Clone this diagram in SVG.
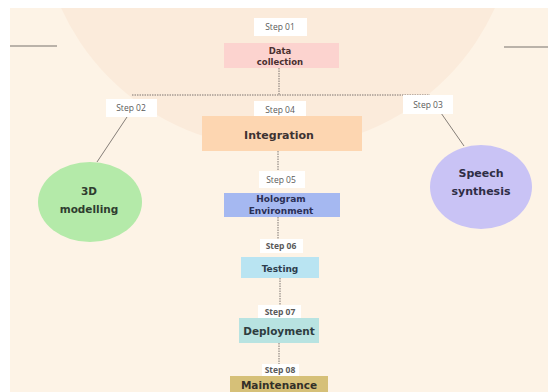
<svg xmlns="http://www.w3.org/2000/svg" width="548" height="392" viewBox="0 0 548 392">
<style>
.step{fill:#ffffff}
.steptxt{font-family:"Open Sans","DejaVu Sans",sans-serif;font-size:8.5px;fill:#5a5a5a;text-anchor:middle}
.lbl{font-family:"DejaVu Sans",sans-serif;font-weight:bold;text-anchor:middle}
.dot{stroke:#7d7570;stroke-width:1;stroke-dasharray:1.5 1;fill:none}
.solid{stroke:#857e78;stroke-width:1;fill:none}
.rule{stroke:#a39c94;stroke-width:1.5;fill:none}
</style>
<rect x="0" y="0" width="548" height="392" fill="#ffffff"/>
<rect x="10" y="8" width="538" height="384" fill="#fdf3e6"/>
<clipPath id="bgclip"><rect x="10" y="8" width="538" height="384"/></clipPath>
<circle cx="278" cy="-90" r="238" fill="#fbebdb" clip-path="url(#bgclip)"/>
<line class="rule" x1="10" y1="46" x2="57" y2="46"/>
<line class="rule" x1="504" y1="47" x2="548" y2="47"/>

<g id="connectors">
<line class="dot" x1="279" y1="68" x2="279" y2="95"/>
<line class="dot" x1="132" y1="95" x2="430" y2="95"/>
<line class="solid" x1="127" y1="117" x2="97" y2="162"/>
<line class="solid" x1="441" y1="113" x2="464" y2="146"/>
<line class="dot" x1="278" y1="151" x2="278" y2="171"/>
<line class="dot" x1="278" y1="217" x2="278" y2="240"/>
<line class="dot" x1="280" y1="278" x2="280" y2="306"/>
<line class="dot" x1="279" y1="343" x2="279" y2="365"/>
</g>

<g id="step01"><rect class="step" x="254" y="18" width="53" height="18"/><text class="steptxt" x="280" y="30">Step 01</text></g>
<g id="data-collection"><rect x="224" y="43" width="115" height="25" fill="#fcd3cf"/>
<text class="lbl" x="280" y="53.5" font-size="8.5" fill="#4a2f30">Data</text>
<text class="lbl" x="280" y="64.5" font-size="8.5" fill="#4a2f30">collection</text></g>

<g id="step02"><rect class="step" x="106" y="99" width="51" height="18"/><text class="steptxt" x="131" y="111">Step 02</text></g>
<g id="step04"><rect class="step" x="254" y="101" width="52" height="17"/><text class="steptxt" x="280" y="112.5">Step 04</text></g>
<g id="step03"><rect class="step" x="403" y="95" width="50" height="19"/><text class="steptxt" x="428" y="107.5">Step 03</text></g>

<g id="integration"><rect x="202" y="116" width="160" height="35" fill="#fdd6b1"/>
<text class="lbl" x="279" y="138.5" font-size="11" fill="#3d3232">Integration</text></g>

<g id="modelling"><ellipse cx="90" cy="202" rx="52" ry="40" fill="#b4eaa9"/>
<text class="lbl" x="89" y="195" font-size="10.5" fill="#2f3d30">3D</text>
<text class="lbl" x="89" y="213" font-size="10.5" fill="#2f3d30">modelling</text></g>

<g id="speech"><ellipse cx="481" cy="187" rx="51" ry="42" fill="#c9c3f5"/>
<text class="lbl" x="481" y="177" font-size="11" fill="#2e2d45">Speech</text>
<text class="lbl" x="481" y="195" font-size="11" fill="#2e2d45">synthesis</text></g>

<g id="step05"><rect class="step" x="259" y="171" width="46" height="17"/><text class="steptxt" x="281" y="182.5">Step 05</text></g>
<g id="hologram"><rect x="224" y="193" width="116" height="24" fill="#a5b8f1"/>
<text class="lbl" x="281" y="202" font-size="9" fill="#2a2f55">Hologram</text>
<text class="lbl" x="281" y="214" font-size="9" fill="#2a2f55">Environment</text></g>

<g id="step06"><rect class="step" x="260" y="239" width="43" height="14"/><text class="steptxt" x="281" y="249" font-weight="bold" font-size="8">Step 06</text></g>
<g id="testing"><rect x="241" y="257" width="78" height="21" fill="#b9e4f2"/>
<text class="lbl" x="280" y="271.5" font-size="9" fill="#2d3d4d">Testing</text></g>

<g id="step07"><rect class="step" x="258" y="305" width="43" height="14"/><text class="steptxt" x="280" y="315" font-weight="bold" font-size="8">Step 07</text></g>
<g id="deployment"><rect x="239" y="318" width="80" height="25" fill="#b8e3e1"/>
<text class="lbl" x="279" y="335" font-size="10.5" fill="#2e3d3f">Deployment</text></g>

<g id="step08"><rect class="step" x="262" y="364" width="37" height="12"/><text class="steptxt" x="280" y="373" font-weight="bold" font-size="8">Step 08</text></g>
<g id="maintenance"><rect x="230" y="376" width="98" height="18" fill="#d6c078"/>
<text class="lbl" x="279" y="388.5" font-size="10.5" fill="#333028">Maintenance</text></g>
</svg>
